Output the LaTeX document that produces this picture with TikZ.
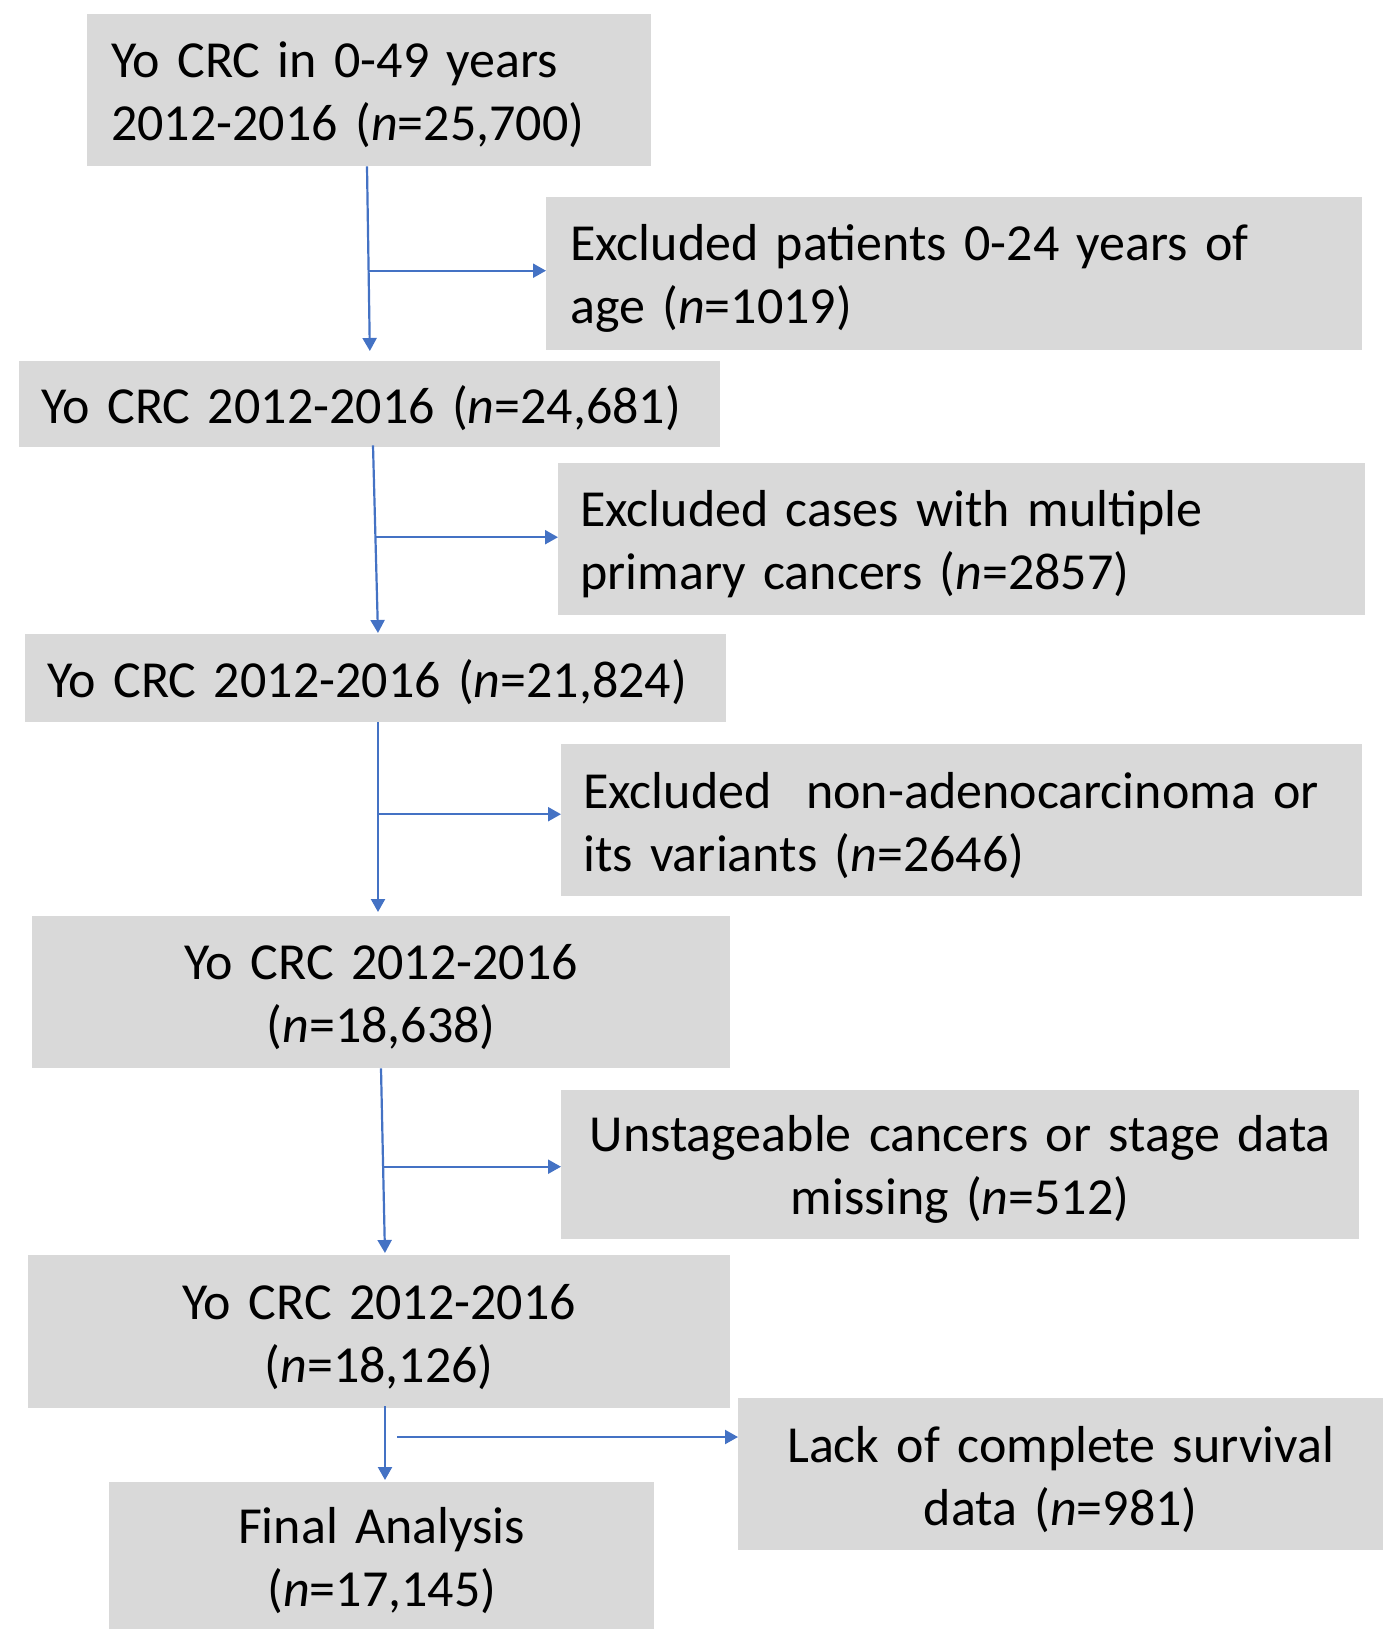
\documentclass[tikz,border=0pt]{standalone}
\usepackage{fontspec}
\setmainfont{Carlito}
\usetikzlibrary{arrows.meta}
\definecolor{boxgray}{HTML}{D9D9D9}
\definecolor{arrblue}{HTML}{4472C4}
\begin{document}
\begin{tikzpicture}[x=1pt,y=-1pt,
  box/.style={fill=boxgray, draw=none, anchor=north west, inner sep=0pt},
  ltxt/.style={anchor=west, inner sep=0pt, align=left, text width=#1,
    font=\fontsize{52}{63}\selectfont},
  ctxt/.style={anchor=center, inner sep=0pt, align=center, text width=#1,
    font=\fontsize{52}{63}\selectfont},
  arr/.style={draw=arrblue, line width=2.2pt, -{Triangle[length=13pt,width=14pt]}}]
\useasboundingbox (0,0) rectangle (1400,1647);
% boxes
\node[box, minimum width=564pt, minimum height=152pt] (b1) at (87,14) {};
\node[box, minimum width=816pt, minimum height=153pt] (b2) at (546,197) {};
\node[box, minimum width=701pt, minimum height=86pt] (b3) at (19,361) {};
\node[box, minimum width=807pt, minimum height=152pt] (b4) at (558,463) {};
\node[box, minimum width=701pt, minimum height=88pt] (b5) at (25,634) {};
\node[box, minimum width=801pt, minimum height=152pt] (b6) at (561,744) {};
\node[box, minimum width=698pt, minimum height=152pt] (b7) at (32,916) {};
\node[box, minimum width=798pt, minimum height=149pt] (b8) at (561,1090) {};
\node[box, minimum width=702pt, minimum height=153pt] (b9) at (28,1255) {};
\node[box, minimum width=645pt, minimum height=152pt] (b10) at (738,1398) {};
\node[box, minimum width=545pt, minimum height=147pt] (b11) at (109,1482) {};
% texts
\node[ltxt=520pt, xshift=24pt, yshift=-5pt] (t1) at (b1.west)
  {Yo CRC in 0-49 years\\2012-2016 (\textit{n}=25,700)};
\node[ltxt=770pt, xshift=24pt, yshift=-5pt] (t2) at (b2.west)
  {Excluded patients 0-24 years of\\age (\textit{n}=1019)};
\node[ltxt=660pt, xshift=22pt, yshift=-4pt] (t3) at (b3.west)
  {Yo CRC 2012-2016 (\textit{n}=24,681)};
\node[ltxt=770pt, xshift=22pt, yshift=-5pt] (t4) at (b4.west)
  {Excluded cases with multiple\\primary cancers (\textit{n}=2857)};
\node[ltxt=660pt, xshift=22pt, yshift=-4pt] (t5) at (b5.west)
  {Yo CRC 2012-2016 (\textit{n}=21,824)};
\node[ltxt=770pt, xshift=22pt, yshift=-5pt] (t6) at (b6.west)
  {Excluded\ \ non-adenocarcinoma or\\its variants (\textit{n}=2646)};
\node[ctxt=660pt, yshift=-5pt] (t7) at (b7.center)
  {Yo CRC 2012-2016\\(\textit{n}=18,638)};
\node[ctxt=790pt, yshift=-5pt] (t8) at (b8.center)
  {Unstageable cancers or stage data\\missing (\textit{n}=512)};
\node[ctxt=660pt, yshift=-5pt] (t9) at (b9.center)
  {Yo CRC 2012-2016\\(\textit{n}=18,126)};
\node[ctxt=630pt, yshift=-5pt] (t10) at (b10.center)
  {Lack of complete survival\\data (\textit{n}=981)};
\node[ctxt=530pt, yshift=-5pt] (t11) at (b11.center)
  {Final Analysis\\(\textit{n}=17,145)};
% guide coordinates
\coordinate (v1a) at (367,0);
\coordinate (v1b) at (370,0);
\coordinate (v1m) at (369,0);
\coordinate (v2a) at (373,0);
\coordinate (v2b) at (378,0);
\coordinate (v2m) at (376,0);
\coordinate (v3) at (378,0);
\coordinate (v4a) at (381,0);
\coordinate (v4b) at (385,0);
\coordinate (v4m) at (383,0);
\coordinate (v5) at (385,0);
\coordinate (h5) at (397,1437);
% connectors
\draw[arr, shorten >=10pt] (v1a |- b1.south) -- (v1b |- b3.north);
\draw[arr] ([yshift=3pt]v1m |- b2.west) -- ([yshift=3pt]b2.west);
\draw[arr, shorten >=1pt] ([yshift=2pt]v2a |- b3.south) -- (v2b |- b5.north);
\draw[arr] ([yshift=2pt]v2m |- b4.west) -- ([yshift=2pt]b4.west);
\draw[arr, shorten >=4pt] (v3 |- b5.south) -- (v3 |- b7.north);
\draw[arr] ([yshift=6pt]v3 |- b6.west) -- ([yshift=6pt]b6.west);
\draw[arr, shorten >=2pt] (v4a |- b7.south) -- (v4b |- b9.north);
\draw[arr] ([yshift=-2pt]v4m |- b8.west) -- ([yshift=-2pt]b8.west);
\draw[arr, shorten >=2pt] ([yshift=2pt]v5 |- b9.south) -- (v5 |- b11.north);
\draw[arr] (h5) -- (b10.west |- h5);
\end{tikzpicture}
\end{document}
